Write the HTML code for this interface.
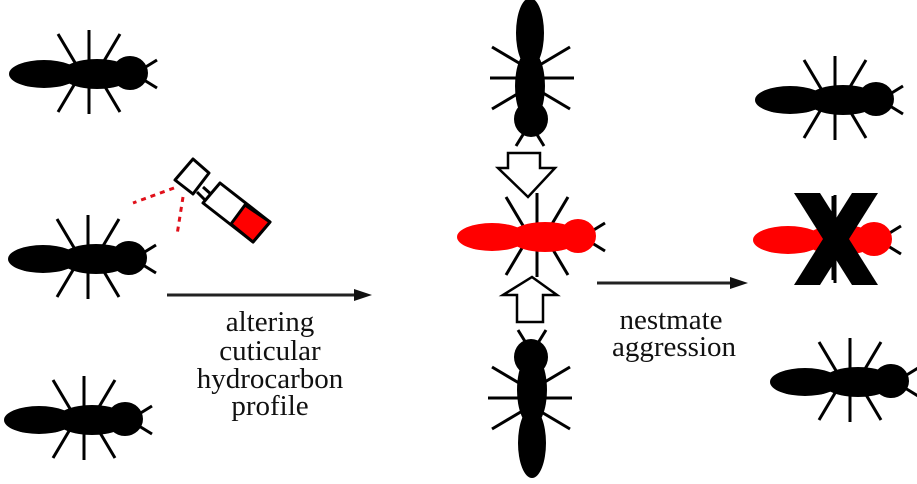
<!DOCTYPE html>
<html><head><style>html,body{margin:0;padding:0;background:#fff;}svg{display:block}</style></head>
<body>
<svg width="917" height="484" viewBox="0 0 917 484" xmlns="http://www.w3.org/2000/svg">
<defs>
<g id="legs" stroke="#000" stroke-width="3" fill="none">
  <line x1="80" y1="-44" x2="80" y2="40"/>
  <line x1="49" y1="-40" x2="68" y2="-8"/>
  <line x1="111" y1="-40" x2="92" y2="-8"/>
  <line x1="49" y1="38" x2="68" y2="6"/>
  <line x1="111" y1="38" x2="92" y2="6"/>
  <line x1="135" y1="-6" x2="148" y2="-14"/>
  <line x1="135" y1="6" x2="148" y2="14"/>
</g>
<g id="bodyK" fill="#000">
  <ellipse cx="35" cy="0" rx="35" ry="14"/>
  <ellipse cx="88" cy="0" rx="36" ry="15"/>
  <ellipse cx="121" cy="-1" rx="18" ry="17"/>
</g>
<g id="bodyR" fill="#f00">
  <ellipse cx="35" cy="0" rx="35" ry="14"/>
  <ellipse cx="88" cy="0" rx="36" ry="15"/>
  <ellipse cx="121" cy="-1" rx="18" ry="17"/>
</g>
<g id="tK"><use href="#legs"/><use href="#bodyK"/></g>
<g id="tR"><use href="#legs"/><use href="#bodyR"/></g>
</defs>

<use href="#tK" transform="translate(9,74)"/>
<use href="#tK" transform="translate(8,259)"/>
<use href="#tK" transform="translate(4,420)"/>

<g stroke="#000" stroke-width="3" fill="#fff" stroke-linejoin="round">
  <polygon points="193,159 209,173 193,194 175,180"/>
  <line x1="203" y1="187" x2="213" y2="196"/>
  <line x1="197" y1="192" x2="207" y2="202"/>
  <polygon points="220,183 270,222 253,242 203,203"/>
</g>
<polygon points="245,205 270,222 253,242 231,224" fill="#f00" stroke="#000" stroke-width="3" stroke-linejoin="round"/>
<g stroke="#e0101a" stroke-width="3" stroke-dasharray="5,5">
  <line x1="174" y1="188" x2="133" y2="203"/>
  <line x1="183" y1="197" x2="177" y2="235"/>
</g>

<line x1="167" y1="295" x2="358" y2="295" stroke="#222" stroke-width="3"/>
<polygon points="372,295 354,289 354,301" fill="#111"/>
<g font-family="Liberation Serif, serif" font-size="29" fill="#111" text-anchor="middle">
  <text x="270" y="331">altering</text>
  <text x="270" y="360">cuticular</text>
  <text x="270" y="388">hydrocarbon</text>
  <text x="270" y="415">profile</text>
</g>

<use href="#tK" transform="translate(530,-2) rotate(90)"/>
<use href="#tR" transform="translate(457,237)"/>
<use href="#tK" transform="translate(532,478) rotate(-90)"/>
<polygon points="508,153 540,153 540,168 555,168 528,197 498,168 508,168" fill="#fff" stroke="#000" stroke-width="2.5"/>
<polygon points="532,277 557,295 543,295 543,322 517,322 517,295 503,295" fill="#fff" stroke="#000" stroke-width="2.5"/>

<line x1="597" y1="283" x2="733" y2="283" stroke="#222" stroke-width="3"/>
<polygon points="748,283 730,277 730,289" fill="#111"/>
<g font-family="Liberation Serif, serif" font-size="29" fill="#111" text-anchor="middle">
  <text x="671" y="329">nestmate</text>
  <text x="674" y="356">aggression</text>
</g>

<use href="#tK" transform="translate(755,100)"/>
<use href="#tR" transform="translate(753,240)"/>
<polygon points="794,193 820,193 878,285 852,285" fill="#000"/>
<polygon points="852,193 878,193 820,285 794,285" fill="#000"/>
<line x1="835" y1="195" x2="835" y2="283" stroke="#000" stroke-width="3"/>
<use href="#tK" transform="translate(770,382)"/>
</svg>
</body></html>
